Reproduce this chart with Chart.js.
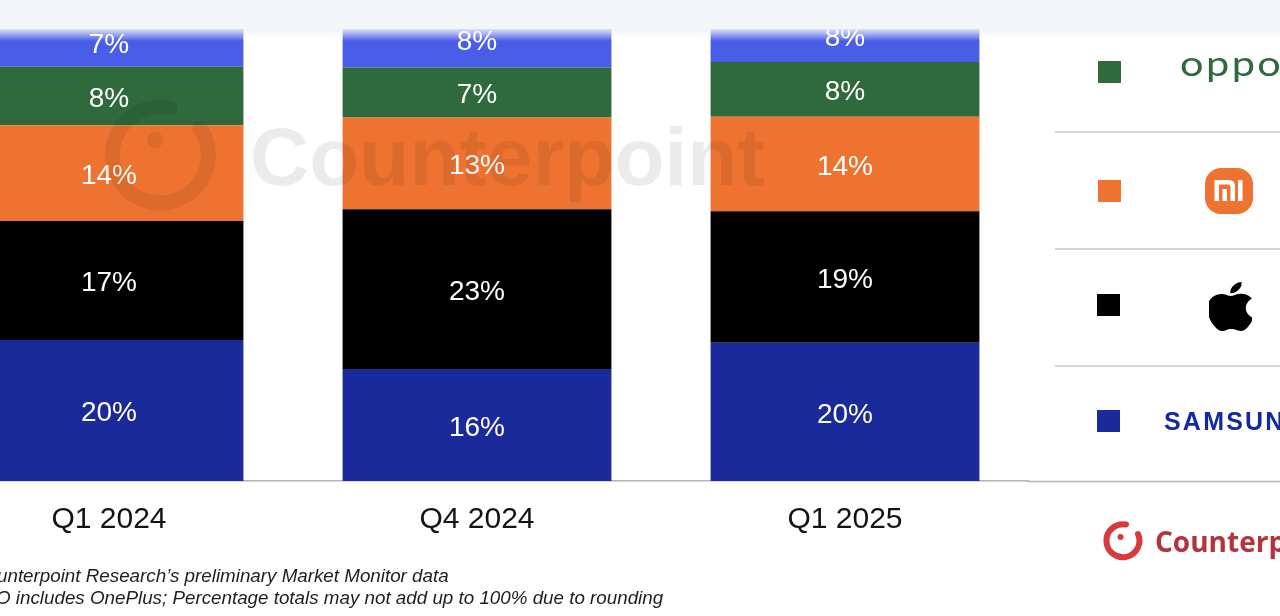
<!DOCTYPE html>
<html>
<head>
<meta charset="utf-8">
<script src="https://cdn.jsdelivr.net/npm/chart.js@4.4.1/dist/chart.umd.min.js"></script>
<style>
  html, body { margin: 0; padding: 0; width: 1280px; height: 616px; overflow: hidden; background: #ffffff; }
  #wrap { position: relative; width: 1280px; height: 616px; overflow: hidden; }
  #chart { position: absolute; left: -75px; top: 0; width: 1104px; height: 616px; z-index: 1; }
  #overlay { position: absolute; left: 0; top: 0; z-index: 2; }
</style>
</head>
<body>
<div id="wrap">
  <canvas id="chart" width="1104" height="616"></canvas>
  <svg id="overlay" width="1280" height="616" viewBox="0 0 1280 616" xmlns="http://www.w3.org/2000/svg">
    <defs>
      <linearGradient id="fade" x1="0" y1="0" x2="0" y2="1">
        <stop offset="0" stop-color="#eef0f4" stop-opacity="0.9"/>
        <stop offset="1" stop-color="#ffffff" stop-opacity="0"/>
      </linearGradient>
    </defs>
    <!-- watermark -->
    <g fill="rgba(0,0,0,0.08)" stroke="none">
      <path d="M 170 108 A 48 48 0 1 0 200 128" fill="none" stroke="rgba(0,0,0,0.08)" stroke-width="15" stroke-linecap="round"/>
      <circle cx="155" cy="140" r="8"/>
      <text x="250" y="185" font-family="'Liberation Sans', Arial, sans-serif" font-weight="700" font-size="82">Counterpoint</text>
    </g>
    <!-- legend separators -->
    <g stroke="#c9c9c9" stroke-width="1.5">
      <line x1="1055" y1="132" x2="1280" y2="132"/>
      <line x1="1055" y1="249" x2="1280" y2="249"/>
      <line x1="1055" y1="366" x2="1280" y2="366"/>
    </g>
    <line x1="1028" y1="481.5" x2="1280" y2="481.5" stroke="#b4b4b4" stroke-width="1.5"/>
    <!-- legend squares -->
    <rect x="1098" y="61" width="23" height="22" fill="#2e6a3c"/>
    <rect x="1098" y="180" width="23" height="22" fill="#ee7330"/>
    <rect x="1097" y="294" width="23" height="22" fill="#000000"/>
    <rect x="1097" y="410" width="23" height="22" fill="#1b2a9a"/>
    <!-- OPPO logo text -->
    <g transform="translate(1180,76) scale(1.22,1)">
      <text x="0" y="0" font-family="Lato, 'Open Sans', sans-serif" font-weight="400" font-size="34" letter-spacing="2" fill="#2e6a3c">oppo</text>
    </g>
    <!-- Mi logo -->
    <g transform="translate(1205,168)">
      <rect x="0" y="0" width="48" height="46" rx="16" ry="16" fill="#ee7330"/>
      <path d="M9.5 12 H24 Q30 12 30 18 V33 H25.5 V18.5 Q25.5 16.5 23.5 16.5 H14 V33 H9.5 Z" fill="#ffffff"/>
      <rect x="17.5" y="21" width="4.5" height="12" fill="#ffffff"/>
      <rect x="33" y="12" width="4.5" height="21" fill="#ffffff"/>
    </g>
    <!-- Apple logo -->
    <svg x="1209" y="282" width="43" height="49" viewBox="2.9 0 18.3 24" preserveAspectRatio="none">
      <path fill="#000" d="M12.152 6.896c-.948 0-2.415-1.078-3.96-1.04-2.04.027-3.91 1.183-4.961 3.014-2.117 3.675-.546 9.103 1.519 12.09 1.013 1.454 2.208 3.09 3.792 3.039 1.52-.065 2.09-.987 3.935-.987 1.831 0 2.35.987 3.96.948 1.637-.026 2.676-1.48 3.676-2.948 1.156-1.688 1.636-3.325 1.662-3.415-.039-.013-3.182-1.221-3.22-4.857-.026-3.04 2.48-4.494 2.597-4.559-1.429-2.090-3.623-2.324-4.390-2.376-2-.156-3.675 1.090-4.610 1.090zM15.53 3.83c.843-1.012 1.4-2.427 1.245-3.83-1.207.052-2.662.805-3.532 1.818-.78.896-1.454 2.338-1.273 3.714 1.338.104 2.715-.688 3.559-1.701"/>
    </svg>
    <!-- Samsung -->
    <text x="1164" y="430" font-family="'Liberation Sans', Arial, sans-serif" font-weight="700" font-size="25" letter-spacing="2.2" fill="#1428a0">SAMSUNG</text>
    <!-- Counterpoint brand -->
    <g>
      <path d="M 1126 524.5 A 16.5 16.5 0 1 0 1138 534" fill="none" stroke="#d8393c" stroke-width="6" stroke-linecap="round"/>
      <circle cx="1120.5" cy="537" r="3" fill="#d8393c"/>
      <text x="1155" y="552" font-family="'Open Sans', 'Liberation Sans', Arial, sans-serif" font-weight="700" font-size="28" fill="#b3343c">Counterpoint</text>
    </g>
    <!-- footnotes -->
    <text x="-3" y="582" font-family="'Liberation Sans', Arial, sans-serif" font-style="italic" font-size="18.8" fill="#1e1e1e">unterpoint Research’s preliminary Market Monitor data</text>
    <text x="-4" y="604" font-family="'Liberation Sans', Arial, sans-serif" font-style="italic" font-size="18.8" fill="#1e1e1e">O includes OnePlus; Percentage totals may not add up to 100% due to rounding</text>
    <!-- top band -->
    <rect x="0" y="0" width="1280" height="29" fill="#f4f5f8"/>
    <rect x="0" y="29" width="1280" height="12" fill="url(#fade)"/>
  </svg>
</div>
<script>
const categories = ['Q1 2024', 'Q4 2024', 'Q1 2025'];
const samsungShare = [20.3, 16.1, 19.9];
const appleShare = [17.1, 23.0, 18.9];
const xiaomiShare = [13.8, 13.2, 13.6];
const oppoShare = [8.4, 7.2, 7.9];
const vivoShare = [7.1, 8.0, 7.6];
const seriesNames = ['Samsung', 'Apple', 'Xiaomi', 'OPPO', 'vivo'];
const seriesColors = ['#1b2a9a', '#000000', '#ee7330', '#2e6a3c', '#4a5de8'];
const seriesValues = [samsungShare, appleShare, xiaomiShare, oppoShare, vivoShare];

const barLabels = {
  id: 'barLabels',
  afterDatasetsDraw(chart) {
    const ctx = chart.ctx;
    ctx.save();
    ctx.font = '28px "Liberation Sans", Arial, sans-serif';
    ctx.fillStyle = '#ffffff';
    ctx.textAlign = 'center';
    ctx.textBaseline = 'middle';
    chart.data.datasets.forEach((ds, i) => {
      const meta = chart.getDatasetMeta(i);
      meta.data.forEach((el, j) => {
        const p = el.getProps(['x', 'y', 'base'], true);
        ctx.fillText(Math.round(ds.data[j]) + '%', p.x, (p.y + p.base) / 2 + 3);
      });
    });
    ctx.restore();
  }
};

new Chart(document.getElementById('chart'), {
  type: 'bar',
  data: {
    labels: categories,
    datasets: seriesNames.map((n, i) => ({
      label: n,
      data: seriesValues[i],
      backgroundColor: seriesColors[i],
      borderWidth: 0,
      barPercentage: 0.7305,
      categoryPercentage: 1.0
    }))
  },
  options: {
    responsive: false,
    animation: false,
    devicePixelRatio: 1,
    layout: { padding: 0 },
    plugins: { legend: { display: false }, tooltip: { enabled: false } },
    scales: {
      x: {
        stacked: true,
        grid: { display: false },
        border: { display: true, color: '#b4b4b4', width: 1.5 },
        ticks: {
          color: '#141414',
          padding: 13,
          font: { family: '"Liberation Sans", Arial, sans-serif', size: 30 }
        },
        afterFit(scale) { scale.height = 135; }
      },
      y: {
        stacked: true,
        display: false,
        min: 0,
        max: 69.21
      }
    }
  },
  plugins: [barLabels]
});
</script>
</body>
</html>
